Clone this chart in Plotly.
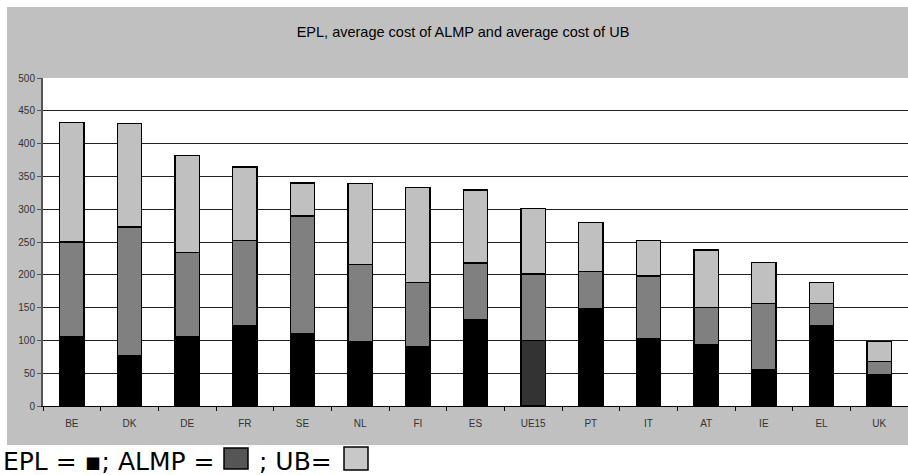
import plotly.graph_objects as go

## values ##
countries = ["BE", "DK", "DE", "FR", "SE", "NL", "FI", "ES", "UE15", "PT", "IT", "AT", "IE", "EL", "UK"]
epl = [106, 77, 106, 123, 110, 98, 91, 131, 100, 148, 102, 93, 56, 122, 48]
almp = [144, 196, 128, 129, 180, 118, 97, 87, 101, 57, 96, 57, 100, 34, 20]
ub = [182, 158, 148, 112, 50, 123, 145, 111, 100, 75, 54, 88, 63, 32, 30]

## EU15 average has a lighter black for EPL ##
epl_colors = ["#333333" if c == "UE15" else "#000000" for c in countries]

line = dict(color="#000000", width=1.5)
fig = go.Figure()
fig.add_trace(go.Bar(x=countries, y=epl, name="EPL", marker=dict(color=epl_colors, line=line)))
fig.add_trace(go.Bar(x=countries, y=almp, name="ALMP", marker=dict(color="#808080", line=line)))
fig.add_trace(go.Bar(x=countries, y=ub, name="UB", marker=dict(color="#c0c0c0", line=line)))

W, H = 908, 475
L, R, T, B = 43, 0, 78, 69
pw, ph = W - L - R, H - T - B

def px(x):
    return (x - L) / pw

def py_(y):
    return (H - B - y) / ph

def white_rect(x0, y0, x1, y1):
    return dict(type="rect", xref="paper", yref="paper", layer="above",
                x0=px(x0), x1=px(x1), y0=py_(y1), y1=py_(y0),
                fillcolor="#ffffff", line=dict(width=0))

fig.update_layout(
    width=W, height=H,
    barmode="stack", bargap=0.58,
    showlegend=False,
    paper_bgcolor="#c0c0c0", plot_bgcolor="#ffffff",
    margin=dict(l=L, r=R, t=T, b=B, pad=0),
    font=dict(family="Arial, Liberation Sans", color="#222222"),
    title=dict(text="EPL, average cost of ALMP and average cost of UB",
               x=463 / W, xanchor="center", y=1 - 32 / H, yanchor="middle",
               font=dict(size=14.5, color="#000000")),
    xaxis=dict(type="category", showline=True, linecolor="#000000", linewidth=1,
               ticks="outside", tickson="boundaries", ticklen=4, tickcolor="#000000",
               ticklabelstandoff=8,
               tickfont=dict(size=10, color="#333333"), showgrid=False),
    yaxis=dict(range=[0, 500], dtick=50, showline=True, linecolor="#555555", linewidth=2,
               ticks="outside", ticklen=4, tickcolor="#555555",
               tickfont=dict(size=10, color="#333333"),
               showgrid=True, gridcolor="#222222", gridwidth=1, zeroline=False),
    shapes=[
        ## white page strips round the grey chart area ##
        white_rect(0, 0, W, 7),
        white_rect(0, 0, 7, H),
        white_rect(0, 445, W, H),
        ## legend boxes ##
        dict(type="rect", xref="paper", yref="paper",
             x0=px(224), x1=px(248), y0=py_(469), y1=py_(448),
             fillcolor="#555555", line=dict(color="#000000", width=1.5)),
        dict(type="rect", xref="paper", yref="paper",
             x0=px(344), x1=px(368), y0=py_(470), y1=py_(447),
             fillcolor="#c8c8c8", line=dict(color="#000000", width=1.5)),
    ],
    annotations=[
        dict(text="EPL = \u25aa; ALMP =", xref="paper", yref="paper",
             x=px(1), y=py_(461), xanchor="left", yanchor="middle", showarrow=False,
             font=dict(family="DejaVu Sans", size=25, color="#000000")),
        dict(text="; UB=", xref="paper", yref="paper",
             x=px(257), y=py_(461), xanchor="left", yanchor="middle", showarrow=False,
             font=dict(family="DejaVu Sans", size=25, color="#000000")),
    ],
)

## drop the page margin so the figure sits at the top-left corner ##
fig.write_html("out.html", config={"displayModeBar": False},
               post_script="document.body.style.margin='0';")
